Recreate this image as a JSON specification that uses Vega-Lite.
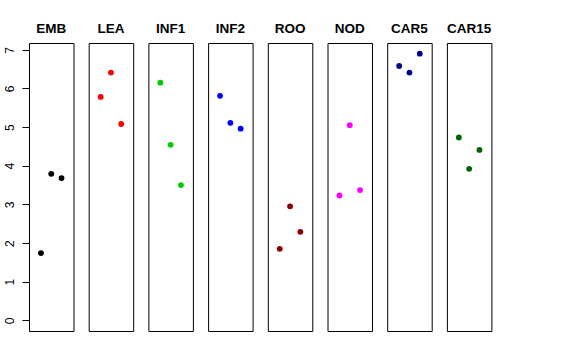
{
  "$schema": "https://vega.github.io/schema/vega-lite/v6.json",
  "background": "white",
  "padding": {"left": 2, "top": 21, "right": 5, "bottom": 5},
  "bounds": "flush",
  "data": {"values": [
    {"tissue": "EMB", "rep": 1, "value": 1.74},
    {"tissue": "EMB", "rep": 2, "value": 3.79},
    {"tissue": "EMB", "rep": 3, "value": 3.68},
    {"tissue": "LEA", "rep": 1, "value": 5.78},
    {"tissue": "LEA", "rep": 2, "value": 6.41},
    {"tissue": "LEA", "rep": 3, "value": 5.08},
    {"tissue": "INF1", "rep": 1, "value": 6.15},
    {"tissue": "INF1", "rep": 2, "value": 4.54},
    {"tissue": "INF1", "rep": 3, "value": 3.50},
    {"tissue": "INF2", "rep": 1, "value": 5.81},
    {"tissue": "INF2", "rep": 2, "value": 5.11},
    {"tissue": "INF2", "rep": 3, "value": 4.96},
    {"tissue": "ROO", "rep": 1, "value": 1.85},
    {"tissue": "ROO", "rep": 2, "value": 2.95},
    {"tissue": "ROO", "rep": 3, "value": 2.29},
    {"tissue": "NOD", "rep": 1, "value": 3.23},
    {"tissue": "NOD", "rep": 2, "value": 5.05},
    {"tissue": "NOD", "rep": 3, "value": 3.37},
    {"tissue": "CAR5", "rep": 1, "value": 6.58},
    {"tissue": "CAR5", "rep": 2, "value": 6.41},
    {"tissue": "CAR5", "rep": 3, "value": 6.90},
    {"tissue": "CAR15", "rep": 1, "value": 4.73},
    {"tissue": "CAR15", "rep": 2, "value": 3.92},
    {"tissue": "CAR15", "rep": 3, "value": 4.41}
  ]},
  "facet": {
    "column": {
      "field": "tissue", "type": "nominal",
      "sort": ["EMB", "LEA", "INF1", "INF2", "ROO", "NOD", "CAR5", "CAR15"],
      "header": {"title": null, "labelFont": "Liberation Sans", "labelFontSize": 13.5, "labelFontWeight": "bold", "labelColor": "black", "labelPadding": 8}
    }
  },
  "spacing": 14.7,
  "spec": {
    "width": 44.5,
    "height": 288,
    "mark": {"type": "circle", "size": 34, "opacity": 1},
    "encoding": {
      "x": {"field": "rep", "type": "quantitative", "scale": {"domain": [-0.16, 4.16], "nice": false, "zero": false}, "axis": null},
      "y": {"field": "value", "type": "quantitative",
        "scale": {"domain": [-0.276, 7.176], "nice": false, "zero": false},
        "axis": {"values": [0, 1, 2, 3, 4, 5, 6, 7], "title": null, "domain": false, "grid": false, "tickSize": 7, "tickColor": "black", "labelAngle": -90, "labelAlign": "center", "labelBaseline": "alphabetic", "labelPadding": 9, "labelFont": "Liberation Sans", "labelFontSize": 12, "labelColor": "black"}},
      "color": {"field": "tissue", "type": "nominal", "legend": null,
        "scale": {"domain": ["EMB", "LEA", "INF1", "INF2", "ROO", "NOD", "CAR5", "CAR15"],
          "range": ["#000000", "#FF0000", "#00CD00", "#0000FF", "#8B0000", "#FF00FF", "#00008B", "#006400"]}}
    }
  },
  "config": {"view": {"stroke": "black", "strokeWidth": 1}}
}
